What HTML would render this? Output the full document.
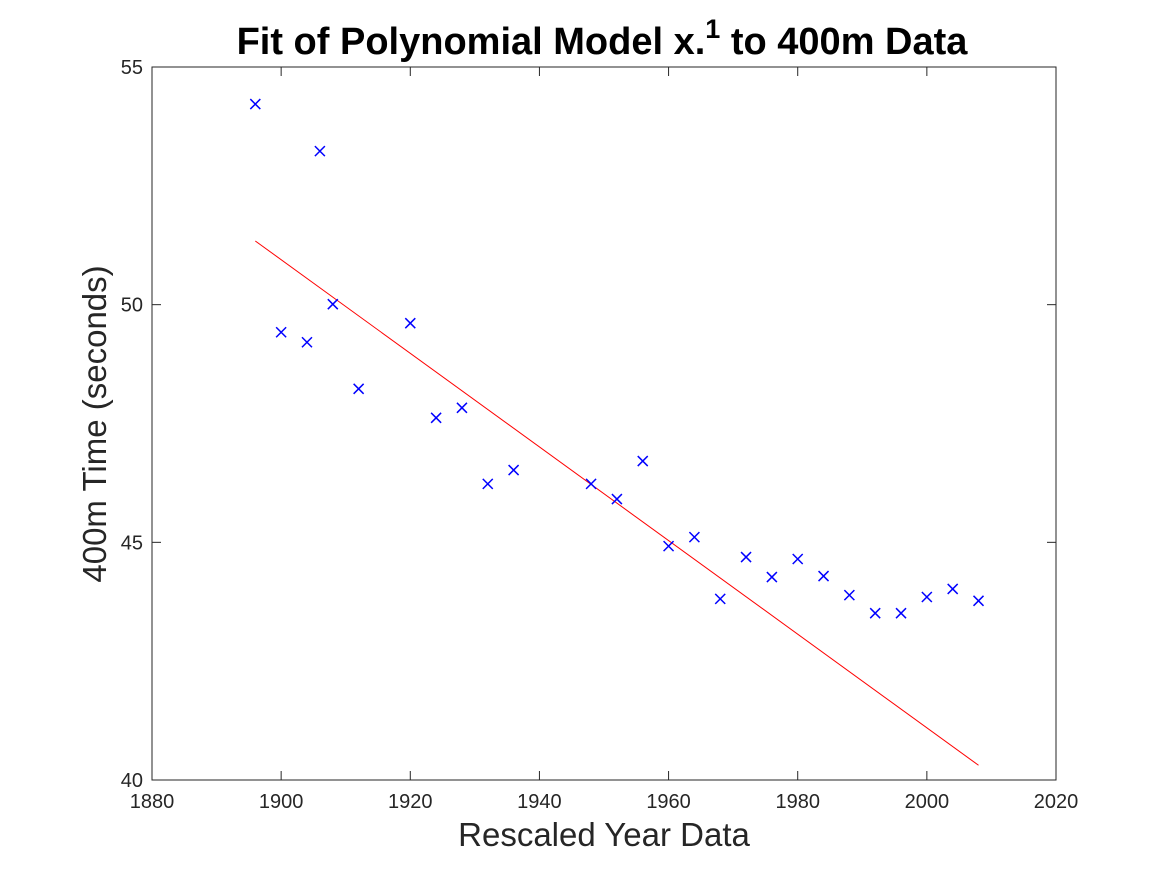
<!DOCTYPE html>
<html><head><meta charset="utf-8"><style>
body{margin:0;background:#fff;}
svg text{font-family:"Liberation Sans",Arial,sans-serif;}
</style></head><body>
<svg id="chart" width="1167" height="875" xmlns="http://www.w3.org/2000/svg">
<rect x="0" y="0" width="1167" height="875" fill="#fff"/>
<text x="602" y="54" text-anchor="middle" font-size="38" font-weight="bold" fill="#000">Fit of Polynomial Model x.<tspan dy="-16" font-size="27">1</tspan><tspan dy="16"> to 400m Data</tspan></text>
<rect x="152" y="67" width="904" height="713" fill="none" stroke="#262626" stroke-width="1"/>
<g id="ticks"></g>
<g id="fit"></g>
<g id="marks"></g>
<text x="604" y="846" text-anchor="middle" font-size="33" fill="#262626">Rescaled Year Data</text>
<text transform="translate(106,424) rotate(-90)" text-anchor="middle" font-size="33" fill="#262626">400m Time (seconds)</text>
</svg>
<script>
const years=[1896,1900,1904,1906,1908,1912,1920,1924,1928,1932,1936,1948,1952,1956,1960,1964,1968,1972,1976,1980,1984,1988,1992,1996,2000,2004,2008];
const times=[54.22,49.42,49.21,53.23,50.01,48.23,49.61,47.62,47.83,46.23,46.52,46.23,45.91,46.71,44.92,45.11,43.81,44.69,44.27,44.65,44.29,43.89,43.51,43.51,43.85,44.02,43.77];
const fitYears=[1896,2008];
const fitTimes=[51.34,40.31];
const xTicks=[1880,1900,1920,1940,1960,1980,2000,2020];
const yTicks=[40,45,50,55];
const NS='http://www.w3.org/2000/svg';
const L=152,R=1056,T=67,B=780;
function sx(v){return L+(v-1880)/(2020-1880)*(R-L);}
function sy(v){return B-(v-40)/(55-40)*(B-T);}
function mk(tag,attrs,parent){const e=document.createElementNS(NS,tag);for(const k in attrs)e.setAttribute(k,attrs[k]);parent.appendChild(e);return e;}
const tg=document.getElementById('ticks');
xTicks.forEach(v=>{const x=sx(v);
 const t1=mk('line',{x1:x,x2:x,y1:B,y2:B-9,stroke:'#262626'},tg);
 
 
 const t2=mk('line',{x1:x,x2:x,y1:T,y2:T+9,stroke:'#262626'},tg);
 
 
 const lb=mk('text',{x:x,y:B+28,'text-anchor':'middle','font-size':'20',fill:'#262626'},tg);lb.textContent=v;
 
 
});
yTicks.forEach(v=>{const y=sy(v);
 const t1=mk('line',{x1:L,x2:L+9,y1:y,y2:y,stroke:'#262626'},tg);
 
 
 const t2=mk('line',{x1:R,x2:R-9,y1:y,y2:y,stroke:'#262626'},tg);
 
 
 const lb=mk('text',{x:L-9,y:y+7,'text-anchor':'end','font-size':'20',fill:'#262626'},tg);lb.textContent=v;
 
 
});
const fl=mk('line',{x1:sx(fitYears[0]),y1:sy(fitTimes[0]),x2:sx(fitYears[1]),y2:sy(fitTimes[1]),stroke:'#ff0000','stroke-width':'1'},document.getElementById('fit'));


const mg=document.getElementById('marks');
years.forEach((yr,i)=>{const x=sx(yr),y=sy(times[i]),s=5;
 const p=mk('path',{d:`M${x-s},${y-s}L${x+s},${y+s}M${x-s},${y+s}L${x+s},${y-s}`,stroke:'#0000ff','stroke-width':'1.5',fill:'none'},mg);
 
 
});
</script>
</body></html>
